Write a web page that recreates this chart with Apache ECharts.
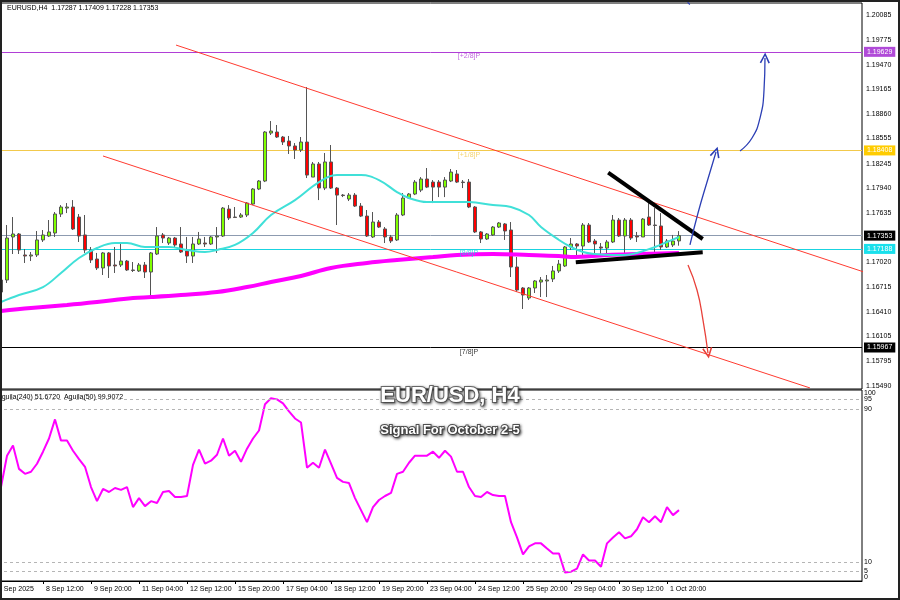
<!DOCTYPE html>
<html><head><meta charset="utf-8">
<script src="https://cdn.jsdelivr.net/npm/echarts@6/dist/echarts.min.js"></script>
<style>html,body{margin:0;padding:0;background:#fff}
#wrap{position:relative;width:900px;height:600px}
#c{width:900px;height:600px}
#frame{position:absolute;left:0;top:0;width:900px;height:600px;box-sizing:border-box;border:2px solid #222;pointer-events:none}</style>
</head><body><div id="wrap"><div id="c"></div><div id="frame"></div></div>
<script>
// ---- data (H4 bars, 5 Sep 08:00 .. 2 Oct 04:00) : [open, close, low, high]
const candles = [
[1.16654,1.16803,1.16617,1.16865],[1.16803,1.17323,1.16766,1.17484],[1.17336,1.17373,1.17125,1.17583],[1.17373,1.17175,1.17125,1.17385],
[1.17113,1.17100,1.17014,1.17187],[1.17100,1.17113,1.17038,1.17150],[1.17113,1.17299,1.17088,1.17410],[1.17299,1.17361,1.17274,1.17422],
[1.17348,1.17398,1.17336,1.17546],[1.17385,1.17620,1.17336,1.17645],[1.17620,1.17707,1.17583,1.17731],[1.17694,1.17707,1.17632,1.17756],
[1.17707,1.17435,1.17422,1.17793],[1.17583,1.17348,1.17274,1.17620],[1.17361,1.17175,1.17138,1.17608],[1.17175,1.17051,1.17014,1.17212],
[1.17063,1.16952,1.16927,1.17138],[1.16952,1.17138,1.16865,1.17150],[1.17138,1.16977,1.16828,1.17150],[1.16989,1.16977,1.16890,1.17212],
[1.16989,1.17038,1.16964,1.17261],[1.17038,1.16927,1.16915,1.17051],[1.16927,1.16921,1.16902,1.17026],[1.16915,1.16989,1.16902,1.17014],
[1.16989,1.16902,1.16828,1.17026],[1.16902,1.17138,1.16580,1.17150],[1.17125,1.17348,1.17113,1.17459],[1.17361,1.17323,1.17261,1.17385],
[1.17261,1.17323,1.17237,1.17336],[1.17323,1.17237,1.17212,1.17336],[1.17249,1.17150,1.17138,1.17459],[1.17162,1.17100,1.17014,1.17336],
[1.17100,1.17249,1.17014,1.17336],[1.17249,1.17311,1.17237,1.17398],[1.17261,1.17249,1.17212,1.17336],[1.17249,1.17336,1.17237,1.17348],
[1.17336,1.17348,1.17138,1.17459],[1.17348,1.17694,1.17336,1.17707],[1.17682,1.17571,1.17546,1.17731],[1.17583,1.17577,1.17571,1.17707],
[1.17583,1.17608,1.17571,1.17632],[1.17608,1.17756,1.17583,1.17768],[1.17744,1.17930,1.17731,1.17942],[1.17930,1.18029,1.17917,1.18041],
[1.18029,1.18636,1.18016,1.18648],[1.18623,1.18648,1.18599,1.18772],[1.18636,1.18574,1.18562,1.18723],[1.18574,1.18512,1.18475,1.18587],
[1.18524,1.18463,1.18364,1.18587],[1.18463,1.18413,1.18302,1.18499],[1.18413,1.18512,1.18388,1.18574],[1.18512,1.18103,1.18066,1.19193],
[1.18078,1.18240,1.18078,1.18265],[1.18240,1.17942,1.17793,1.18265],[1.17942,1.18265,1.17917,1.18376],[1.18265,1.17942,1.17930,1.18475],
[1.17942,1.17855,1.17484,1.17954],[1.17855,1.17849,1.17830,1.17868],[1.17806,1.17855,1.17781,1.17880],[1.17855,1.17719,1.17707,1.17880],
[1.17719,1.17595,1.17583,1.17756],[1.17595,1.17348,1.17336,1.17670],[1.17336,1.17521,1.17323,1.17645],[1.17521,1.17459,1.17447,1.17546],
[1.17435,1.17336,1.17261,1.17459],[1.17336,1.17286,1.17261,1.17361],[1.17299,1.17608,1.17286,1.17632],[1.17608,1.17818,1.17595,1.17880],
[1.17818,1.17868,1.17806,1.17880],[1.17868,1.18016,1.17855,1.18041],[1.17917,1.18054,1.17892,1.18078],[1.18054,1.17954,1.17942,1.18190],
[1.18016,1.17954,1.17756,1.18041],[1.18016,1.17954,1.17830,1.18041],[1.17954,1.18041,1.17830,1.18078],[1.18029,1.18140,1.18016,1.18178],
[1.18116,1.18016,1.18004,1.18165],[1.18016,1.18010,1.17942,1.18041],[1.18016,1.17707,1.17694,1.18054],[1.17707,1.17398,1.17385,1.17719],
[1.17398,1.17311,1.17261,1.17410],[1.17311,1.17373,1.17299,1.17385],[1.17361,1.17459,1.17348,1.17472],[1.17459,1.17509,1.17447,1.17521],
[1.17497,1.17410,1.17299,1.17509],[1.17422,1.16964,1.16840,1.17521],[1.16964,1.16679,1.16654,1.17088],[1.16704,1.16617,1.16444,1.16716],
[1.16580,1.16704,1.16555,1.16716],[1.16704,1.16791,1.16642,1.16803],[1.16778,1.16803,1.16592,1.16840],[1.16791,1.16803,1.16592,1.16865],
[1.16816,1.16915,1.16778,1.16977],[1.16915,1.17001,1.16890,1.17051],[1.16977,1.17212,1.16964,1.17224],[1.17212,1.17249,1.17175,1.17323],
[1.17249,1.17224,1.17076,1.17261],[1.17224,1.17484,1.17076,1.17509],[1.17484,1.17274,1.17261,1.17509],[1.17286,1.17249,1.17088,1.17311],
[1.17212,1.17199,1.17113,1.17261],[1.17199,1.17274,1.17113,1.17299],[1.17274,1.17546,1.17261,1.17608],[1.17546,1.17348,1.17336,1.17571],
[1.17348,1.17546,1.17138,1.17571],[1.17546,1.17323,1.17299,1.17571],[1.17348,1.17336,1.17274,1.17398],[1.17336,1.17558,1.17336,1.17571],
[1.17583,1.17484,1.17472,1.17756],[1.17484,1.17478,1.17150,1.17694],[1.17472,1.17212,1.17175,1.17632],[1.17212,1.17286,1.17199,1.17311],
[1.17237,1.17286,1.17212,1.17361],[1.17287,1.17353,1.17228,1.17409]
];
// moving averages read at selected bars (bar index, price)
const maFastIdx = [0,3,7,10,13,16,19,21,24,28,31,34,36,39,42,45,49,53,56,60,63,66,68,71,75,78,82,85,88,90,93,95,97,99,102,104,106,109,111,113];
const maFastVal = [1.16531,1.16617,1.16716,1.16890,1.17076,1.17199,1.17261,1.17261,1.17212,1.17212,1.17175,1.17150,1.17175,1.17237,1.17385,1.17608,1.17793,1.18016,1.18103,1.18103,1.18041,1.17892,1.17818,1.17768,1.17768,1.17768,1.17731,1.17707,1.17608,1.17459,1.17299,1.17212,1.17150,1.17125,1.17113,1.17113,1.17138,1.17212,1.17274,1.17336];
const maSlowIdx = [0,5,11,16,22,25,30,36,41,45,50,55,61,66,72,76,82,88,93,95,101,106,113];
const maSlowVal = [1.16419,1.16456,1.16493,1.16530,1.16580,1.16592,1.16617,1.16654,1.16716,1.16778,1.16853,1.16952,1.17014,1.17051,1.17088,1.17113,1.17125,1.17113,1.17100,1.17088,1.17113,1.17125,1.17138];
// oscillator (Aguila) per bar
const aguila = [49.2,65.6,70.9,58.7,56.1,57.2,61.4,67.7,74.6,84.6,73.5,73.5,68.2,63.8,59.8,49.2,41.8,48.2,46.6,48.7,
47.7,49.2,38.7,43.4,39.2,41.8,40.8,46.6,47.1,44.0,44.0,44.5,60.8,68.8,61.4,63.0,66.1,74.6,65.6,68.2,
62.4,69.3,74.6,78.8,92.5,95.7,95.1,93.0,88.8,85.1,83.0,59.3,61.9,59.3,68.8,61.4,54.0,51.9,51.3,43.4,
37.1,30.8,38.7,42.4,44.5,46.1,56.1,57.2,61.9,65.6,65.6,65.6,67.7,64.5,68.2,65.1,57.2,57.2,49.2,44.5,
44.0,46.6,45.0,44.5,44.5,30.8,22.8,13.9,18.1,19.7,19.7,17.0,14.4,14.4,4.4,4.9,6.5,13.9,10.7,10.7,
7.5,19.7,22.8,25.5,22.3,23.4,27.1,33.4,30.8,33.9,30.8,38.7,34.5,37.1];
const aguilaLevels = [95,90,10,5];
const aguilaTicksMain = [0,10,90,100];
const aguilaTicksExtra = [5,95];
// axes
const xLabels = ['5 Sep 2025','8 Sep 12:00','9 Sep 20:00','11 Sep 04:00','12 Sep 12:00','15 Sep 20:00','17 Sep 04:00','18 Sep 12:00','19 Sep 20:00','23 Sep 04:00','24 Sep 12:00','25 Sep 20:00','29 Sep 04:00','30 Sep 12:00','1 Oct 20:00'];
const xLabelStep = 8;
const priceTicks = [1.20085,1.19775,1.19470,1.19165,1.18860,1.18555,1.18245,1.17940,1.17635,1.17020,1.16715,1.16410,1.16105,1.15795,1.15490];
const priceMin = 1.15453, priceMax = 1.20234;
// levels
const murreyLevels = [1.19629,1.18408,1.17188,1.15967];
const murreyNames = ['[+2/8]P','[+1/8]P','[8/8]P','[7/8]P'];
const murreyColors = ['#b03fd6','#f2c94c','#19d3e0','#000000'];
const murreyTagBg = ['#b04ad8','#ffcc00','#19e0ec','#000000'];
const murreyLabelBar = 78;
const bidPrice = 1.17353;
// drawn objects: [bar index, price]
const channelUpper = [[29.17,1.19713],[143.67,1.16906]];
const channelLower = [[17.0,1.18339],[134.83,1.15466]];
const triUpper = [[101.2,1.18132],[116.95,1.17311]];
const triLower = [[95.8,1.17022],[116.95,1.17146]];
const arrowUpSmall = [[114.83,1.17237],[116.17,1.17633],[117.67,1.18017],[119.17,1.18388]];
const arrowUpBig = [[123.17,1.18401],[125.17,1.18562],[126.5,1.18809],[127.17,1.19156],[127.33,1.19554]];
const arrowDown = [[114.5,1.16989],[116.0,1.16679],[117.0,1.16307],[117.83,1.15899]];
const arrowTop = [[114.0,1.20300],[114.4,1.20250],[114.8,1.20215]];

// ---- build
const OFF = 1;               // category 0 = 5 Sep 04:00 (no bar)
const N = 145;               // categories incl. empty right margin
const cats = Array.from({length:N},(_,i)=>String(i));
const FONT = "'Liberation Sans',Arial,sans-serif";
const FS = 7;
const xTickVals = xLabels.map((_,k)=>k*xLabelStep);
const sh = pts => pts.map(p=>[p[0]+OFF,p[1]]);
const arrowPath = 'path://M0,10 L5,0 L10,10 L8.6,10.8 L5,3.2 L1.4,10.8 Z';
function arrowSeries(pts,color,rot){
  const d = sh(pts).map((p,k,a)=> (k===a.length-1 && rot!==null) ? {value:p,symbol:arrowPath,symbolSize:[11,11],symbolRotate:rot,itemStyle:{color}} : {value:p,symbol:'none'});
  return {type:'line',xAxisIndex:1,yAxisIndex:0,data:d,smooth:0.5,showSymbol:true,symbolKeepAspect:true,lineStyle:{color,width:1.3},itemStyle:{color},z:6,silent:true,animation:false,clip:true};
}
const candleData = [['-','-','-','-']].concat(candles);

const tag = (bg)=>({show:true,position:'end',color:'#fff',backgroundColor:bg,padding:[2,3,1,3],fontSize:FS,fontFamily:FONT,distance:2});
const levelLines = murreyLevels.map((v,k)=>({yAxis:v,lineStyle:{color:murreyColors[k],width:1,type:'solid'},
  label:Object.assign(tag(murreyTagBg[k]),{formatter:v.toFixed(5)})}));
levelLines.push({yAxis:bidPrice,lineStyle:{color:'#8d9bb0',width:1,type:'solid'},
  label:Object.assign(tag('#000'),{formatter:bidPrice.toFixed(5)})});

const option = {
  animation:false,
  backgroundColor:'#fff',
  title:[
    {text:'EURUSD,H4  1.17287 1.17409 1.17228 1.17353',left:7,top:5,padding:0,textStyle:{fontSize:FS,fontWeight:'normal',color:'#000',fontFamily:FONT}},
    {text:'Aguila(240) 51.6720  Aguila(50) 99.9072',left:-3,top:394,padding:0,textStyle:{fontSize:FS,fontWeight:'normal',color:'#000',fontFamily:FONT}},
    {text:'EUR/USD, H4',left:'center',top:385,padding:0,textStyle:{fontSize:22,fontWeight:'bold',color:'#fff',fontFamily:FONT,textBorderColor:'#6e6e6e',textBorderWidth:2,textShadowColor:'rgba(0,0,0,0.55)',textShadowBlur:3,textShadowOffsetX:1,textShadowOffsetY:1}},
    {text:'Signal For October 2-5',left:'center',top:424,padding:0,textStyle:{fontSize:13,fontWeight:'bold',color:'#fff',fontFamily:FONT,textBorderColor:'#555',textBorderWidth:2,textShadowColor:'rgba(0,0,0,0.6)',textShadowBlur:3,textShadowOffsetX:1,textShadowOffsetY:1}}
  ],
  grid:[
    {left:-8,width:870,top:3,height:386,outerBoundsMode:'none',containLabel:false,show:true,borderColor:'#000',borderWidth:1,backgroundColor:'transparent'},
    {left:-8,width:870,top:390,height:191,outerBoundsMode:'none',containLabel:false,show:true,borderColor:'#000',borderWidth:1,backgroundColor:'transparent'}
  ],
  xAxis:[
    {type:'category',gridIndex:0,data:cats,boundaryGap:true,show:false},
    {type:'value',gridIndex:0,min:-0.5,max:N-0.5,show:false},
    {type:'value',gridIndex:1,min:-0.5,max:N-0.5,
      axisLine:{show:true,lineStyle:{color:'#000'}},splitLine:{show:false},
      axisTick:{show:true,customValues:xTickVals,length:3,lineStyle:{color:'#000'}},
      axisLabel:{customValues:xTickVals,formatter:v=>xLabels[Math.round(v/xLabelStep)],align:'left',padding:[0,0,0,3],margin:5,fontSize:FS,color:'#000',fontFamily:FONT,hideOverlap:false,showMinLabel:true,showMaxLabel:true}}
  ],
  yAxis:[
    {type:'value',gridIndex:0,position:'right',min:priceMin,max:priceMax,splitLine:{show:false},
      axisLine:{show:true,lineStyle:{color:'#000'}},
      axisTick:{show:true,customValues:priceTicks,length:3,lineStyle:{color:'#000'}},
      axisLabel:{customValues:priceTicks,formatter:v=>v.toFixed(5),fontSize:FS,margin:4,color:'#000',fontFamily:FONT,showMinLabel:true,showMaxLabel:true}},
    {type:'value',gridIndex:1,position:'right',min:0,max:100,splitLine:{show:false},
      axisLine:{show:true,lineStyle:{color:'#000'}},axisTick:{show:false},
      axisLabel:{customValues:aguilaTicksMain,fontSize:FS,margin:2,color:'#000',fontFamily:FONT,showMinLabel:true,showMaxLabel:true,hideOverlap:false,verticalAlignMaxLabel:'top',verticalAlignMinLabel:'bottom'}},
    {type:'value',gridIndex:1,position:'right',min:0,max:100,splitLine:{show:false},
      axisLine:{show:false},axisTick:{show:false},
      axisLabel:{customValues:aguilaTicksExtra,fontSize:FS,margin:2,color:'#000',fontFamily:FONT,showMinLabel:true,showMaxLabel:true,hideOverlap:false}}
  ],
  series:[
    {type:'candlestick',xAxisIndex:0,yAxisIndex:0,data:candleData,barWidth:4,z:3,
      itemStyle:{color:'#80ff00',color0:'#ff0000',borderColor:'#555',borderColor0:'#555',borderWidth:1},
      markLine:{silent:true,precision:5,symbol:['none','none'],animation:false,z:1,data:levelLines}},
    {type:'line',xAxisIndex:1,yAxisIndex:0,data:maSlowIdx.map((x,k)=>[x+OFF,maSlowVal[k]]),smooth:0.4,showSymbol:false,lineStyle:{color:'#ff00ff',width:4},z:4,silent:true},
    {type:'line',xAxisIndex:1,yAxisIndex:0,data:maFastIdx.map((x,k)=>[x+OFF,maFastVal[k]]),smooth:0.4,showSymbol:false,lineStyle:{color:'#40e0d8',width:2},z:4,silent:true},
    {type:'line',xAxisIndex:1,yAxisIndex:0,data:sh(channelUpper),showSymbol:false,lineStyle:{color:'#ff3b30',width:1},z:5,silent:true,clip:true},
    {type:'line',xAxisIndex:1,yAxisIndex:0,data:sh(channelLower),showSymbol:false,lineStyle:{color:'#ff3b30',width:1},z:5,silent:true,clip:true},
    {type:'line',xAxisIndex:1,yAxisIndex:0,data:sh(triUpper),showSymbol:false,lineStyle:{color:'#000',width:4},z:6,silent:true},
    {type:'line',xAxisIndex:1,yAxisIndex:0,data:sh(triLower),showSymbol:false,lineStyle:{color:'#000',width:4},z:6,silent:true},
    arrowSeries(arrowUpSmall,'#2c3fb5',-17),
    arrowSeries(arrowUpBig,'#2c3fb5',-2),
    arrowSeries(arrowDown,'#e8413a',189),
    arrowSeries(arrowTop,'#2c3fb5',null),
    {type:'scatter',xAxisIndex:1,yAxisIndex:0,symbolSize:0,silent:true,z:7,
      data:murreyLevels.map((v,k)=>({value:[murreyLabelBar+OFF,v],label:{show:true,position:'bottom',distance:1,formatter:murreyNames[k],color:murreyColors[k],fontSize:FS,fontFamily:FONT}}))},
    {type:'line',xAxisIndex:2,yAxisIndex:1,data:aguila.map((v,i)=>[i+OFF,v]),showSymbol:false,lineStyle:{color:'#ff00ff',width:2},z:4,silent:true,
      markLine:{silent:true,precision:2,symbol:['none','none'],label:{show:false},lineStyle:{color:'#b5b5b5',type:[3,3],width:1},data:aguilaLevels.map(v=>({yAxis:v}))}}
  ]
};
const chart = echarts.init(document.getElementById('c'),null,{renderer:'canvas'});
chart.setOption(option);
</script></body></html>
